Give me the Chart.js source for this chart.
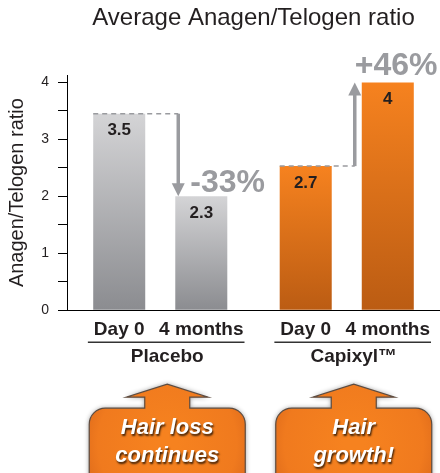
<!DOCTYPE html>
<html><head><meta charset="utf-8">
<script src="https://cdn.jsdelivr.net/npm/chart.js@4"></script>
<style>html,body{margin:0;padding:0;background:#fff}</style>
</head><body>
<canvas id="c" width="440" height="473"></canvas>
<script>
const groups = ['Placebo', 'Capixyl™'];
const timepoints = ['Day 0', '4 months'];
const day0Values = [3.45, 2.53];
const month4Values = [2.0, 4.0];
const day0Labels = ['3.5', '2.7'];
const month4Labels = ['2.3', '4'];
const changeLabels = ['-33%', '+46%'];
const calloutLines = [['Hair loss', 'continues'], ['Hair', 'growth!']];
const yMax = 4.13, yTickMax = 4, yStep = 0.5;

const FONT = '"Liberation Sans", Arial, Helvetica, sans-serif';
const DARK = '#231f20';
const GREY = '#9a9b9f';
Chart.defaults.font.family = FONT;

function barFill(ctx) {
  const chart = ctx.chart;
  if (!chart.chartArea || ctx.type !== 'data') return '#bbb';
  const y = chart.scales.y;
  const top = y.getPixelForValue(ctx.raw), bot = y.getPixelForValue(0);
  const g = chart.ctx.createLinearGradient(0, top, 0, bot);
  if (ctx.dataIndex === 0) { g.addColorStop(0, '#d4d4d6'); g.addColorStop(1, '#8b8c90'); }
  else { g.addColorStop(0, '#f6821f'); g.addColorStop(1, '#bb5c13'); }
  return g;
}

function calloutPath(c, cx, top) {
  const hw = 78, r = 16, stemW = 22.5, headW = 41, headBase = top - 11, tip = top - 24, bottom = top + 90;
  c.beginPath();
  c.moveTo(cx - hw + r, top);
  c.lineTo(cx - stemW, top);
  c.lineTo(cx - stemW, headBase);
  c.lineTo(cx - headW, headBase);
  c.lineTo(cx, tip);
  c.lineTo(cx + headW, headBase);
  c.lineTo(cx + stemW, headBase);
  c.lineTo(cx + stemW, top);
  c.lineTo(cx + hw - r, top);
  c.arcTo(cx + hw, top, cx + hw, top + r, r);
  c.lineTo(cx + hw, bottom);
  c.lineTo(cx - hw, bottom);
  c.lineTo(cx - hw, top + r);
  c.arcTo(cx - hw, top, cx - hw + r, top, r);
  c.closePath();
}

const overlay = {
  id: 'overlay',
  afterDatasetsDraw(chart) {
    const c = chart.ctx;
    const m0 = chart.getDatasetMeta(0).data, m1 = chart.getDatasetMeta(1).data;
    c.save();
    c.font = 'bold 17px ' + FONT;
    c.fillStyle = DARK; c.textAlign = 'center'; c.textBaseline = 'middle';
    m0.forEach((b, i) => c.fillText(day0Labels[i], b.x, b.y + 17));
    m1.forEach((b, i) => c.fillText(month4Labels[i], b.x, b.y + 17));
    for (let i = 0; i < 2; i++) {
      const a = m0[i], b = m1[i];
      const ax = i === 0 ? b.x - b.width / 2 + 3 : b.x - b.width / 2 - 7;
      c.setLineDash([5, 4]); c.strokeStyle = GREY; c.lineWidth = 1.5;
      c.beginPath(); c.moveTo(a.x - a.width / 2, a.y); c.lineTo(ax, a.y); c.stroke();
      c.setLineDash([]);
      const dir = b.y > a.y ? 1 : -1;
      const head = 13;
      c.lineWidth = 3.5;
      c.beginPath(); c.moveTo(ax, a.y); c.lineTo(ax, b.y - dir * head + dir); c.stroke();
      c.fillStyle = GREY;
      c.beginPath(); c.moveTo(ax, b.y); c.lineTo(ax - 6.5, b.y - dir * head); c.lineTo(ax + 6.5, b.y - dir * head); c.closePath(); c.fill();
      c.font = 'bold 32px ' + FONT; c.textAlign = 'left'; c.textBaseline = 'alphabetic';
      if (i === 0) c.fillText(changeLabels[0], ax + 12, b.y - 4);
      else c.fillText(changeLabels[1], ax, b.y - 7);
    }
    c.restore();
  },
  afterDraw(chart) {
    const c = chart.ctx, xs = chart.scales.x, bottom = chart.chartArea.bottom;
    const m0 = chart.getDatasetMeta(0).data, m1 = chart.getDatasetMeta(1).data;
    c.save();
    c.font = 'bold 19px ' + FONT;
    c.fillStyle = DARK; c.textAlign = 'center'; c.textBaseline = 'alphabetic';
    for (let i = 0; i < 2; i++) {
      c.fillText(timepoints[0], m0[i].x, bottom + 25);
      c.fillText(timepoints[1], m1[i].x, bottom + 25);
      const w0 = c.measureText(timepoints[0]).width, w1 = c.measureText(timepoints[1]).width;
      c.strokeStyle = '#333'; c.lineWidth = 1.5;
      c.beginPath(); c.moveTo(m0[i].x - w0 / 2 - 6, bottom + 32); c.lineTo(m1[i].x + w1 / 2 + 1, bottom + 32); c.stroke();
    }
    for (let i = 0; i < 2; i++) {
      const cx = xs.getPixelForValue(i) + 7, top = bottom + 98;
      c.save();
      calloutPath(c, cx, top);
      const g = c.createRadialGradient(cx, top + 35, 10, cx, top + 35, 95);
      g.addColorStop(0, '#f6821f'); g.addColorStop(0.7, '#f07a1e'); g.addColorStop(1, '#d8661a');
      c.fillStyle = g;
      c.shadowColor = 'rgba(0,0,0,0.45)'; c.shadowBlur = 5;
      c.fill();
      c.shadowColor = 'transparent';
      c.strokeStyle = '#5e4c40'; c.lineWidth = 1.2; c.stroke();
      c.restore();
      c.save();
      c.font = 'italic bold 22px ' + FONT;
      c.fillStyle = '#fff'; c.textAlign = 'center'; c.textBaseline = 'alphabetic';
      c.shadowColor = 'rgba(0,0,0,0.75)'; c.shadowOffsetX = 1; c.shadowOffsetY = 2; c.shadowBlur = 2;
      c.fillText(calloutLines[i][0], cx, top + 26);
      c.fillText(calloutLines[i][1], cx, top + 54);
      c.restore();
    }
    c.restore();
  }
};

new Chart(document.getElementById('c'), {
  type: 'bar',
  data: {
    labels: groups,
    datasets: [
      { label: timepoints[0], data: day0Values, backgroundColor: barFill, borderWidth: 0 },
      { label: timepoints[1], data: month4Values, backgroundColor: barFill, borderWidth: 0 }
    ]
  },
  options: {
    responsive: false,
    animation: false,
    layout: { padding: { top: 0, right: 0, bottom: 70, left: 0 } },
    datasets: { bar: { categoryPercentage: 0.88, barPercentage: 0.634 } },
    plugins: {
      legend: { display: false },
      tooltip: { enabled: false },
      title: {
        display: true, text: 'Average Anagen/Telogen ratio', fullSize: false,
        color: DARK, font: { size: 24, weight: 'normal', family: FONT },
        padding: { top: 4, bottom: 42.2 }
      }
    },
    scales: {
      x: {
        grid: { display: true, drawOnChartArea: false, drawTicks: false },
        border: { display: true, color: '#000', width: 1 },
        ticks: { color: DARK, font: { size: 19, weight: 'bold' }, padding: 35, labelOffset: 7 }
      },
      y: {
        min: 0, max: yMax,
        afterBuildTicks(scale) {
          const ticks = [];
          for (let k = 0; k * yStep <= yTickMax + 1e-9; k++) ticks.push({ value: k * yStep });
          scale.ticks = ticks;
        },
        afterFit(scale) { scale.width = 67; },
        ticks: {
          stepSize: yStep, color: DARK, font: { size: 14 }, padding: 9,
          callback: v => (Math.abs(v - Math.round(v)) < 1e-6 ? String(Math.round(v)) : '')
        },
        grid: { drawOnChartArea: false, drawTicks: true, tickLength: 9, color: '#000' },
        border: { display: true, color: '#000', width: 1 },
        title: { display: true, text: 'Anagen/Telogen ratio', color: DARK, font: { size: 20 }, padding: { top: 5, bottom: 0 } }
      }
    }
  },
  plugins: [overlay]
});
</script>
</body></html>
